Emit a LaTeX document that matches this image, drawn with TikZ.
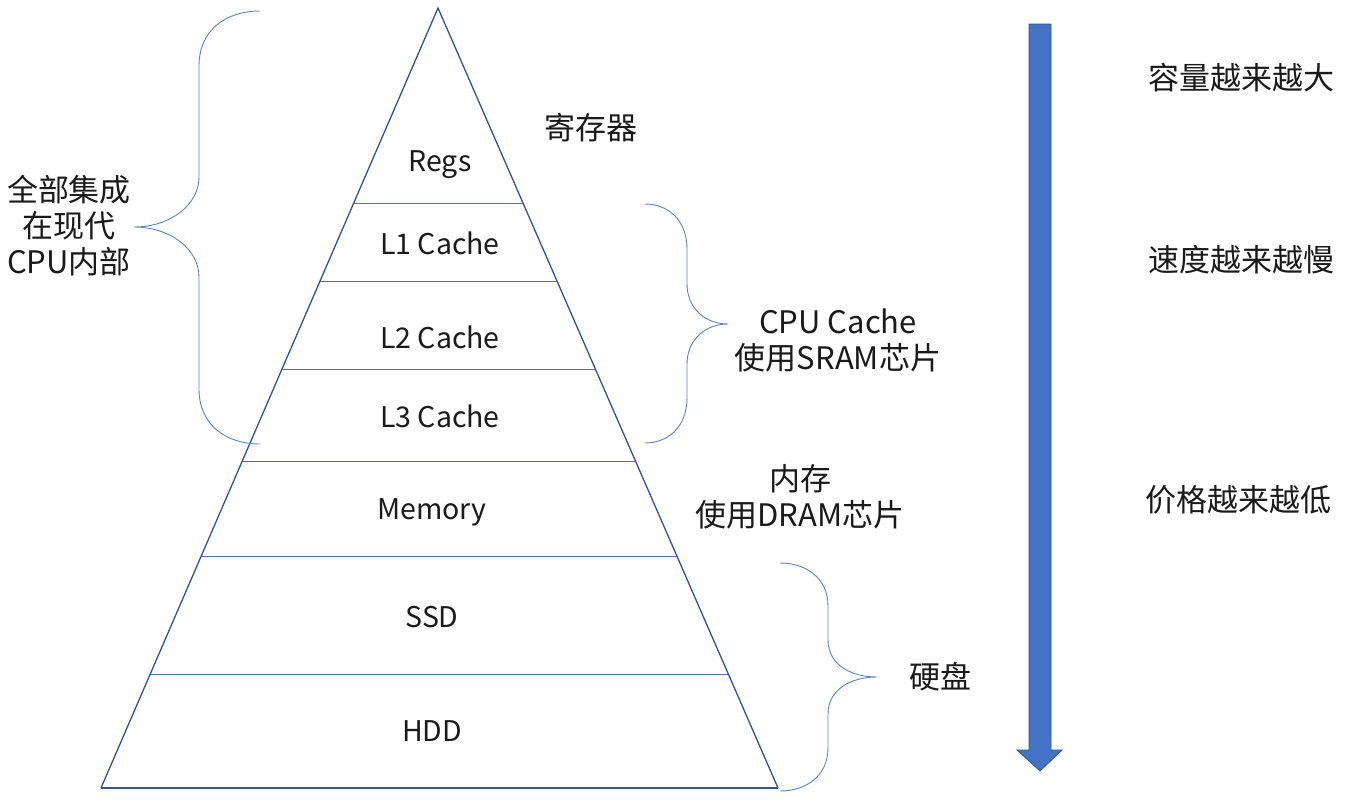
\documentclass[tikz,border=0pt]{standalone}
\usepackage{fontspec}
\setmainfont{Noto Sans CJK SC}
\usetikzlibrary{calc}
\definecolor{edgeblue}{HTML}{2F5597}
\definecolor{layerblue}{HTML}{4472C4}
\definecolor{braceblue}{HTML}{5B84CF}
\definecolor{arrowfill}{HTML}{4472C4}
\definecolor{arrowline}{HTML}{2F528F}
\definecolor{ink}{HTML}{1A1A1A}
\tikzset{
  layername/.style={text=ink, font=\fontsize{28.5}{33}\selectfont},
  sidename/.style={text=ink, align=center, font=\fontsize{31}{36}\selectfont},
  layerline/.style={draw=layerblue, line width=1.0pt},
  bracepath/.style={draw=braceblue, line width=0.9pt}
}
\begin{document}
\begin{tikzpicture}[y=1pt, x=1pt, yscale=-1.000000, xscale=1.000000, inner sep=0pt, outer sep=0pt]
\path[use as bounding box, fill=white] (0,0) rectangle (1345,804);

% pyramid
\coordinate (apex) at (438,8);
\coordinate (bl) at (101,788);
\coordinate (br) at (778,788);
\path[layerline] ($(apex)!0.250!(bl)$) -- ($(apex)!0.250!(br)$);
\path[layerline] ($(apex)!0.351!(bl)$) -- ($(apex)!0.351!(br)$);
\path[layerline] ($(apex)!0.464!(bl)$) -- ($(apex)!0.464!(br)$);
\path[layerline] ($(apex)!0.582!(bl)$) -- ($(apex)!0.582!(br)$);
\path[layerline] ($(apex)!0.703!(bl)$) -- ($(apex)!0.703!(br)$);
\path[layerline] ($(apex)!0.855!(bl)$) -- ($(apex)!0.855!(br)$);
\path[draw=edgeblue, line join=miter, line width=1.3pt] (bl) -- (apex) -- (br);
\path[draw=edgeblue, line width=2.4pt] (bl) -- (br);

\node[layername] (regs) at (440,165) {Regs};
\node[layername] (lone) at (440,243) {L1 Cache};
\node[layername] (ltwo) at (440,337) {L2 Cache};
\node[layername] (lthree) at (440,416) {L3 Cache};
\node[layername] (memory) at (432,512) {Memory};
\node[layername] (ssd) at (432,617) {SSD};
\node[layername] (hdd) at (432,731) {HDD};

% braces
\path[bracepath] (260,11) .. controls (226,11) and (199,30) .. (199,66) --
  (199,177) .. controls (199,205) and (170,227) .. (134,227) .. controls
  (170,227) and (199,249) .. (199,277) -- (199,389) .. controls (199,425) and
  (226,444) .. (260,444);
\path[bracepath] (645,204) .. controls (668,204) and (687,220) .. (687,249) --
  (687,284) .. controls (687,308) and (705,324) .. (728,324) .. controls
  (705,324) and (687,340) .. (687,364) -- (687,398) .. controls (687,427) and
  (668,443) .. (645,443);
\path[bracepath] (780,563) .. controls (806,563) and (828,578) .. (828,606) --
  (828,640) .. controls (828,664) and (850,677) .. (877,677) .. controls
  (850,677) and (828,690) .. (828,714) -- (828,748) .. controls (828,776) and
  (806,791) .. (780,791);

\node[sidename] (cpuinside) at (69,226) {全部集成\\在现代\\CPU内部};
\node[sidename] (register) at (591,128) {寄存器};
\node[sidename] (sram) at (838,340) {CPU Cache\\使用SRAM芯片};
\node[sidename] (dram) at (800,497) {内存\\使用DRAM芯片};
\node[sidename] (disk) at (940,677) {硬盘};

% arrow
\path[draw=arrowline, fill=arrowfill, line width=0.8pt, line join=miter]
  (1029,24) -- (1051,24) -- (1051,750) -- (1062,750) -- (1040,771) --
  (1017,750) -- (1029,750) -- cycle;
\node[sidename] (capacity) at (1241,78) {容量越来越大};
\node[sidename] (speed) at (1241,260) {速度越来越慢};
\node[sidename] (price) at (1238,500) {价格越来越低};

\end{tikzpicture}
\end{document}
